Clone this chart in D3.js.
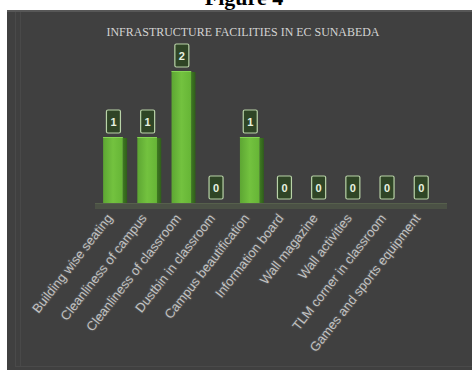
<!DOCTYPE html>
<html>
<head>
<meta charset="utf-8">
<script src="https://cdn.jsdelivr.net/npm/d3@7/dist/d3.min.js"></script>
<style>
html,body{margin:0;padding:0;background:#fff;}
svg{display:block;}
</style>
</head>
<body>
<svg id="chart" width="472" height="370"></svg>
<script>
const categories = [
  "Building wise seating",
  "Cleanliness of campus",
  "Cleanliness of classroom",
  "Dustbin in classroom",
  "Campus beautification",
  "Information board",
  "Wall magazine",
  "Wall activities",
  "TLM corner in classroom",
  "Games and sports equipment"
];
const values = [1, 1, 2, 0, 1, 0, 0, 0, 0, 0];
const chartTitle = "INFRASTRUCTURE FACILITIES IN  EC SUNABEDA";
const figureCaption = "Figure 4";

const svg = d3.select("#chart");
const W = 472, H = 370;

// caption (cut off at top, as in the reference)
svg.append("text")
  .attr("x", 244).attr("y", 5)
  .attr("text-anchor", "middle")
  .attr("font-family", "Liberation Serif, Times New Roman, serif")
  .attr("font-weight", "bold")
  .attr("font-size", 22)
  .attr("fill", "#000")
  .text(figureCaption);

// panel
svg.append("rect").attr("x", 7).attr("y", 10).attr("width", W - 7).attr("height", H - 10).attr("fill", "#404040");
svg.append("rect").attr("x", 7).attr("y", 10).attr("width", W - 7).attr("height", 2).attr("fill", "#575757");
svg.append("line").attr("x1", 15.5).attr("x2", 15.5).attr("y1", 12).attr("y2", 366).attr("stroke", "#4a4a4a").attr("stroke-width", 1);
svg.append("line").attr("x1", 20.5).attr("x2", 20.5).attr("y1", 12).attr("y2", 366).attr("stroke", "#494949").attr("stroke-width", 1);
svg.append("line").attr("x1", 15).attr("x2", W).attr("y1", 366.5).attr("y2", 366.5).attr("stroke", "#4a4a4a").attr("stroke-width", 1);

// title
svg.append("text")
  .attr("x", 243).attr("y", 36)
  .attr("text-anchor", "middle")
  .attr("font-family", "Liberation Serif, Times New Roman, serif")
  .attr("font-size", 11.5)
  .attr("fill", "#d4d4d4")
  .attr("textLength", 273)
  .attr("lengthAdjust", "spacingAndGlyphs")
  .text(chartTitle);

const x = d3.scaleBand().domain(categories).range([98, 440]).paddingInner(0.3).paddingOuter(0.15);
const y = d3.scaleLinear().domain([0, 2]).range([203, 71]);

const defs = svg.append("defs");
const gFront = defs.append("linearGradient").attr("id", "gf").attr("x1", 0).attr("x2", 1).attr("y1", 0).attr("y2", 0);
gFront.append("stop").attr("offset", "0%").attr("stop-color", "#5da633");
gFront.append("stop").attr("offset", "50%").attr("stop-color", "#73c23f");
gFront.append("stop").attr("offset", "100%").attr("stop-color", "#66b536");
const gSide = defs.append("linearGradient").attr("id", "gs").attr("x1", 0).attr("x2", 1).attr("y1", 0).attr("y2", 0);
gSide.append("stop").attr("offset", "0%").attr("stop-color", "#3f7a22");
gSide.append("stop").attr("offset", "100%").attr("stop-color", "#2f5e1a");

// floor
const floorX0 = x.range()[0] - 3, floorX1 = x.range()[1] + 7;
svg.append("rect").attr("x", floorX0).attr("y", y(0)).attr("width", floorX1 - floorX0).attr("height", 6).attr("fill", "#4b5145");
svg.append("line").attr("x1", floorX0).attr("x2", floorX1).attr("y1", y(0) + 0.5).attr("y2", y(0) + 0.5).attr("stroke", "#56604c");

const bw = x.bandwidth();
const frontW = bw * 0.82;
const bars = svg.append("g");
categories.forEach((c, i) => {
  const v = values[i];
  const x0 = x(c);
  if (v > 0) {
    bars.append("rect").attr("x", x0 + frontW).attr("y", y(v) + 1).attr("width", bw - frontW).attr("height", y(0) - y(v) - 1).attr("fill", "url(#gs)");
    bars.append("rect").attr("x", x0).attr("y", y(v)).attr("width", frontW).attr("height", y(0) - y(v)).attr("fill", "url(#gf)");
    bars.append("line").attr("x1", x0).attr("x2", x0 + frontW).attr("y1", y(v) + 0.5).attr("y2", y(v) + 0.5).attr("stroke", "#86d455");
  }
  // data label box
  const cx = x0 + frontW / 2 + 0.5;
  const bh = 23, bwid = 14;
  const by = y(v) - 4 - bh;
  bars.append("rect").attr("x", cx - bwid / 2).attr("y", by).attr("width", bwid).attr("height", bh)
    .attr("rx", 1.5).attr("fill", "#2f4526").attr("stroke", "#b9d3a8").attr("stroke-width", 1.2);
  bars.append("text").attr("x", cx).attr("y", by + bh / 2 + 4)
    .attr("text-anchor", "middle")
    .attr("font-family", "Liberation Sans, Arial, sans-serif")
    .attr("font-weight", "bold")
    .attr("font-size", 11)
    .attr("fill", "#e8f2e0")
    .text(v);
});

// x axis labels
const axis = d3.axisBottom(x).tickSize(0).tickPadding(0);
const gx = svg.append("g").attr("transform", `translate(0,${y(0) + 13})`).call(axis);
gx.select(".domain").remove();
gx.selectAll("text")
  .attr("font-family", "Liberation Sans, Arial, sans-serif")
  .attr("font-size", 13)
  .attr("fill", "#c2c2c2")
  .attr("text-anchor", "end")
  .attr("dy", "0.3em")
  .attr("dx", 0)
  .attr("y", 0)
  .attr("x", 0)
  .attr("transform", "translate(-5,0) rotate(-52)")
  .style("paint-order", "stroke")
  .attr("stroke", "#4b4b4b")
  .attr("stroke-width", 2.2);
</script>
</body>
</html>
